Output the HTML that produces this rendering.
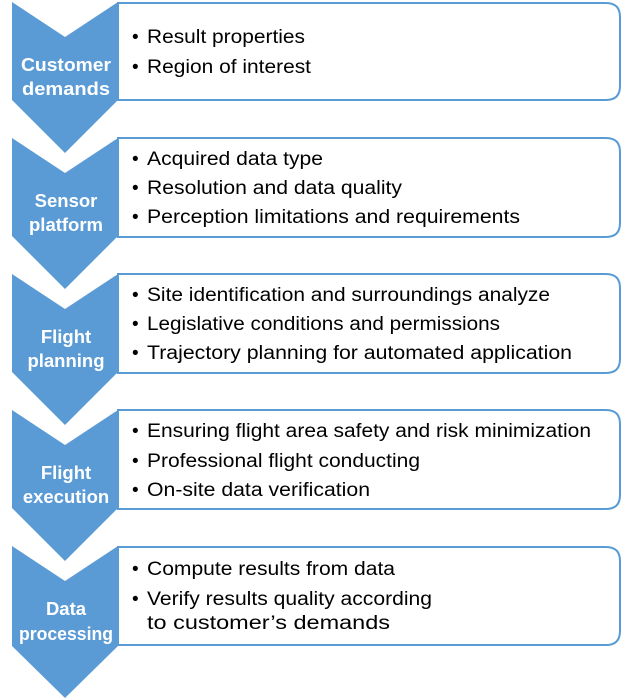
<!DOCTYPE html>
<html><head><style>
html,body{margin:0;padding:0;background:#fff;width:622px;height:700px;overflow:hidden}
svg text{font-family:"Liberation Sans",sans-serif}
.l{font-weight:bold;fill:#fff;font-size:18.5px;text-anchor:middle}
.t{fill:#000;font-size:19px}
</style></head><body>
<svg width="622" height="700" viewBox="0 0 622 700" xmlns="http://www.w3.org/2000/svg">
<g fill="#5B9BD5">
<polygon points="12,2 65,37 118,2 118,100 65,153 12,100"/>
<polygon points="12,138 65,173 118,138 118,236 65,289 12,236"/>
<polygon points="12,274 65,309 118,274 118,372 65,425 12,372"/>
<polygon points="12,410 65,445 118,410 118,508 65,561 12,508"/>
<polygon points="12,546 65,581 118,546 118,646 65,698 12,646"/>
</g>
<g fill="#fff" stroke="#5B9BD5" stroke-width="2">
<path d="M118,3 H606 Q620,3 620,17 V86 Q620,100 606,100 H118 Z"/>
<path d="M118,138 H606 Q620,138 620,152 V223 Q620,237 606,237 H118 Z"/>
<path d="M118,274 H606 Q620,274 620,288 V359 Q620,373 606,373 H118 Z"/>
<path d="M118,410 H606 Q620,410 620,424 V495 Q620,509 606,509 H118 Z"/>
<path d="M118,547 H606 Q620,547 620,561 V631 Q620,645 606,645 H118 Z"/>
</g>
<text class="l" x="66" y="71" textLength="90" lengthAdjust="spacingAndGlyphs">Customer</text><text class="l" x="66" y="95" textLength="88" lengthAdjust="spacingAndGlyphs">demands</text>
<text class="l" x="66" y="207">Sensor</text><text class="l" x="66" y="231">platform</text>
<text class="l" x="66" y="343">Flight</text><text class="l" x="66" y="367">planning</text>
<text class="l" x="66" y="479">Flight</text><text class="l" x="66" y="503">execution</text>
<text class="l" x="66" y="615">Data</text><text class="l" x="66" y="640" textLength="94" lengthAdjust="spacingAndGlyphs">processing</text>
<g>
<text class="t" x="132" y="43">•</text><text class="t" x="147" y="43" textLength="158" lengthAdjust="spacingAndGlyphs">Result properties</text>
<text class="t" x="132" y="73">•</text><text class="t" x="147" y="73" textLength="164" lengthAdjust="spacingAndGlyphs">Region of interest</text>
<text class="t" x="132" y="165">•</text><text class="t" x="147" y="165" textLength="176" lengthAdjust="spacingAndGlyphs">Acquired data type</text>
<text class="t" x="132" y="194">•</text><text class="t" x="147" y="194" textLength="255" lengthAdjust="spacingAndGlyphs">Resolution and data quality</text>
<text class="t" x="132" y="223">•</text><text class="t" x="147" y="223" textLength="373" lengthAdjust="spacingAndGlyphs">Perception limitations and requirements</text>
<text class="t" x="132" y="301">•</text><text class="t" x="147" y="301" textLength="403" lengthAdjust="spacingAndGlyphs">Site identification and surroundings analyze</text>
<text class="t" x="132" y="330">•</text><text class="t" x="147" y="330" textLength="353" lengthAdjust="spacingAndGlyphs">Legislative conditions and permissions</text>
<text class="t" x="132" y="359">•</text><text class="t" x="147" y="359" textLength="425" lengthAdjust="spacingAndGlyphs">Trajectory planning for automated application</text>
<text class="t" x="132" y="437">•</text><text class="t" x="147" y="437" textLength="444" lengthAdjust="spacingAndGlyphs">Ensuring flight area safety and risk minimization</text>
<text class="t" x="132" y="467">•</text><text class="t" x="147" y="467" textLength="273" lengthAdjust="spacingAndGlyphs">Professional flight conducting</text>
<text class="t" x="132" y="496">•</text><text class="t" x="147" y="496" textLength="223" lengthAdjust="spacingAndGlyphs">On-site data verification</text>
<text class="t" x="132" y="575">•</text><text class="t" x="147" y="575" textLength="248" lengthAdjust="spacingAndGlyphs">Compute results from data</text>
<text class="t" x="132" y="605">•</text><text class="t" x="147" y="605" textLength="285" lengthAdjust="spacingAndGlyphs">Verify results quality according</text>
<text class="t" x="147" y="629" textLength="243" lengthAdjust="spacingAndGlyphs">to customer’s demands</text>
</g>
</svg>
</body></html>
